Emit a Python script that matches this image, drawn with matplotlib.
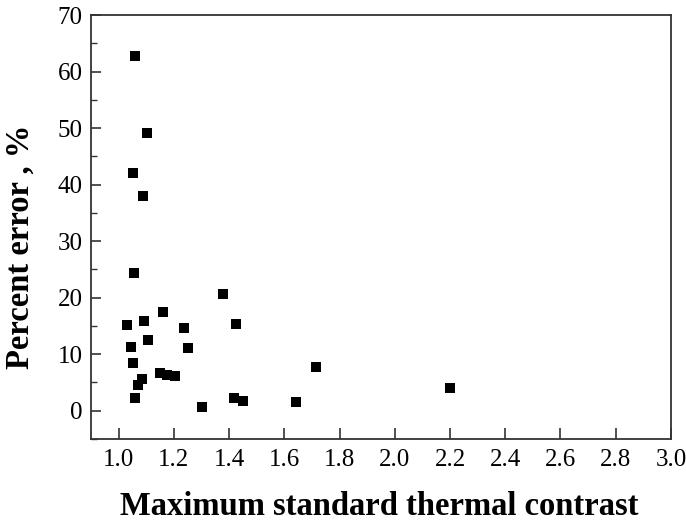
import numpy as np
import matplotlib.pyplot as plt
from matplotlib.ticker import MultipleLocator

# values
contrast = [1.058, 1.103, 1.053, 1.087, 1.054, 1.379, 1.162, 1.029, 1.093,
            1.237, 1.425, 1.106, 1.043, 1.251, 1.053, 1.714, 1.148, 1.175,
            1.203, 1.084, 1.071, 1.058, 1.417, 1.449, 1.642, 1.302, 2.201]
error = [62.7, 49.1, 42.0, 38.0, 24.4, 20.7, 17.5, 15.2, 15.8,
         14.7, 15.3, 12.6, 11.3, 11.1, 8.4, 7.7, 6.6, 6.4,
         6.2, 5.6, 4.6, 2.3, 2.3, 1.7, 1.6, 0.7, 4.1]

plt.rcParams['font.family'] = ['Liberation Serif', 'DejaVu Serif']

fig = plt.figure(figsize=(6.86, 5.23), dpi=100)
ax = fig.add_axes([0.1327, 0.1606, 0.978 - 0.1327, 0.9713 - 0.1606])

ax.scatter(contrast, error, marker='s', s=52, color='black', linewidths=0)

ax.set_xlim(0.9, 3.0)
ax.set_ylim(-5, 70)
ax.set_xticks(np.arange(1.0, 3.01, 0.2))
ax.set_yticks(np.arange(0, 71, 10))
ax.yaxis.set_minor_locator(MultipleLocator(5))

for s in ax.spines.values():
    s.set_linewidth(1.3)
    s.set_color('#333333')

ax.tick_params(axis='x', direction='in', length=8, width=1.2, color='#333333',
               labelsize=18, pad=7)
ax.tick_params(axis='y', which='major', direction='in', length=7, width=1.2,
               color='#333333', labelsize=18, pad=6)
ax.tick_params(axis='y', which='minor', direction='in', length=4, width=1.0,
               color='#333333')

ax.set_xlabel('Maximum standard thermal contrast', fontsize=23.5,
              fontweight='bold')
ax.set_ylabel('Percent error , %', fontsize=23.5, fontweight='bold')
ax.xaxis.set_label_coords(0.497, -0.123)
ax.yaxis.set_label_coords(-0.095, 0.453)

fig.savefig('out.png', dpi=100)
